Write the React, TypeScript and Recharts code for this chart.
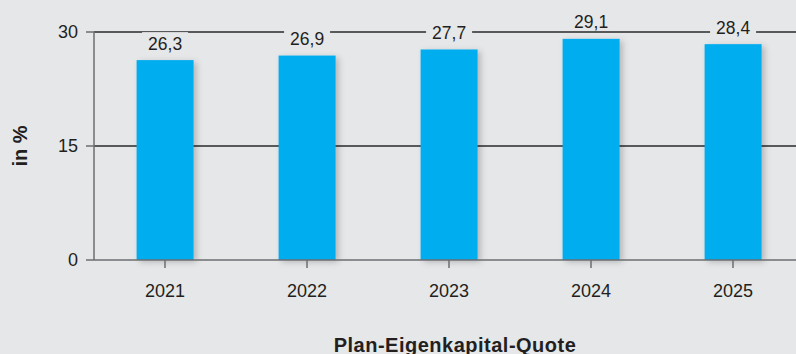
import { Bar, BarChart, CartesianGrid, LabelList, XAxis, YAxis } from "recharts";

const years = ["2021", "2022", "2023", "2024", "2025"];
const quote = [26.3, 26.9, 27.7, 29.1, 28.4];
const yTicks = [0, 15, 30];

const data = years.map((year, i) => ({ year, quote: quote[i] }));

const BG = "#e6e7e9";
const FONT = "'Liberation Sans', Arial, Helvetica, sans-serif";
const INK = "#231f20";

const fmt = (v: number) => v.toFixed(1).replace(".", ",");

const ValueLabel = (props: any) => {
  const { x, y, width, value } = props;
  const cx = x + width / 2;
  const text = fmt(value);
  const w = text.length * 9.5 + 8;
  return (
    <g>
      <rect x={cx - w / 2} y={y - 28} width={w} height={20} fill={BG} />
      <text
        x={cx}
        y={y - 10.5}
        textAnchor="middle"
        fontSize={17.5}
        fontFamily={FONT}
        fill={INK}
      >
        {text}
      </text>
    </g>
  );
};

const ShadowBar = (props: any) => {
  const { x, y, width, height } = props;
  return (
    <rect
      x={x}
      y={y}
      width={width}
      height={height}
      fill="#00adef"
      filter="url(#barShadow)"
    />
  );
};

export default function App() {
  return (
    <div
      style={{
        position: "absolute",
        left: 0,
        top: 0,
        width: 796,
        height: 354,
        overflow: "hidden",
        background: BG,
      }}
    >
      <BarChart
        width={812}
        height={354}
        data={data}
        margin={{ top: 32, right: 8, left: 0, bottom: 0 }}
        barCategoryGap="30%"
      >
        <defs>
          <filter id="barShadow" x="-20%" y="-20%" width="150%" height="150%">
            <feDropShadow
              dx={3}
              dy={2}
              stdDeviation={3}
              floodColor="#000"
              floodOpacity={0.22}
            />
          </filter>
        </defs>
        <CartesianGrid
          vertical={false}
          horizontalValues={[15, 30]}
          stroke="#58595b"
          strokeWidth={2}
        />
        <YAxis
          width={94}
          domain={[0, 30]}
          ticks={yTicks}
          interval={0}
          tickSize={8}
          tickMargin={8}
          axisLine={{ stroke: "#6d6e71", strokeWidth: 1.5 }}
          tickLine={{ stroke: "#6d6e71", strokeWidth: 1.5 }}
          tick={{ fontSize: 18, fontFamily: FONT, fill: INK }}
          label={{
            value: "in %",
            angle: -90,
            position: "insideLeft",
            offset: 20,
            style: {
              fontSize: 20,
              fontWeight: "bold",
              fontFamily: FONT,
              fill: INK,
              textAnchor: "middle",
            },
          }}
        />
        <XAxis
          dataKey="year"
          height={94}
          tickSize={8}
          tickMargin={16}
          axisLine={{ stroke: "#6d6e71", strokeWidth: 1.5 }}
          tickLine={{ stroke: "#6d6e71", strokeWidth: 1.5 }}
          tick={{ fontSize: 18, fontFamily: FONT, fill: INK }}
          label={{
            value: "Plan-Eigenkapital-Quote",
            position: "insideBottom",
            offset: 2,
            dx: 6,
            style: {
              fontSize: 20,
              fontWeight: "bold",
              fontFamily: FONT,
              fill: INK,
              letterSpacing: 0.5,
            },
          }}
        />
        <Bar dataKey="quote" isAnimationActive={false} shape={<ShadowBar />}>
          <LabelList dataKey="quote" content={<ValueLabel />} />
        </Bar>
      </BarChart>
    </div>
  );
}
